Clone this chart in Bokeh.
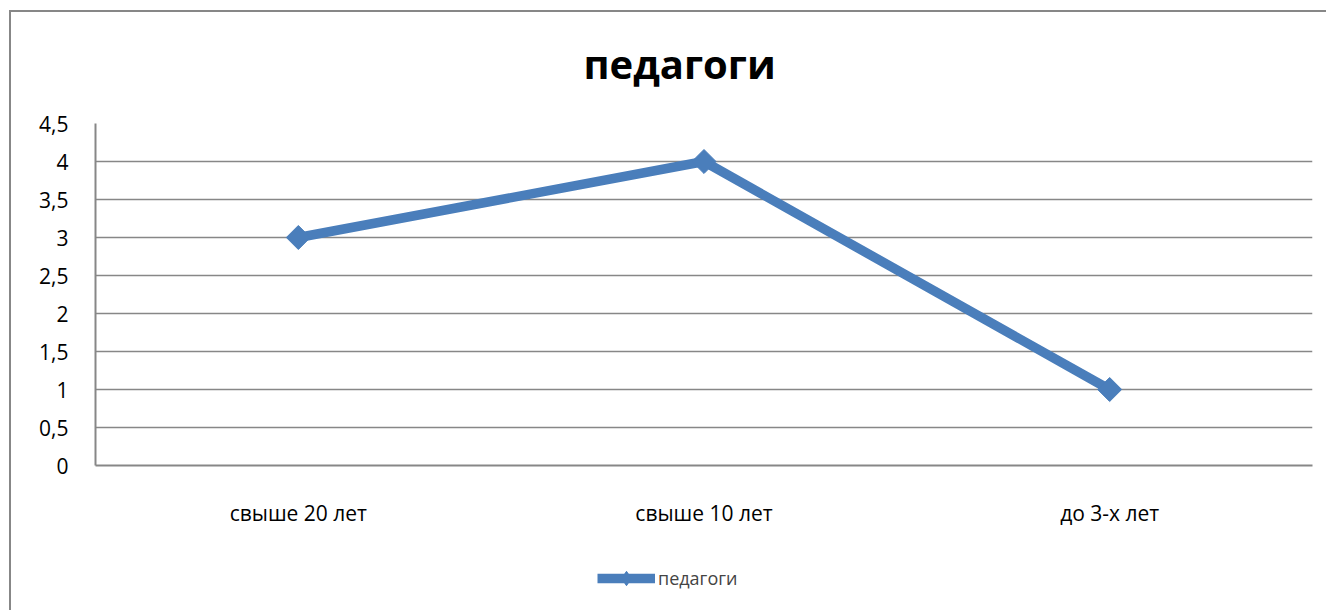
from bokeh.plotting import figure
from bokeh.layouts import column
from bokeh.models import FixedTicker, Title, Legend, LegendItem, FactorRange
from bokeh.embed import file_html
from bokeh.resources import INLINE
import math

categories = ["свыше 20 лет", "свыше 10 лет", "до 3-х лет"]
values = [3, 4, 1]
series_name = "педагоги"
y_ticks = [0, 0.5, 1, 1.5, 2, 2.5, 3, 3.5, 4, 4.5]
y_tick_labels = ["0", "0,5", "1", "1,5", "2", "2,5", "3", "3,5", "4", "4,5"]

FONT = "Open Sans"
GRAY = "#878787"
BLUE = "#4A7EBB"

p = figure(width=1326, height=540, output_backend="svg", toolbar_location=None,
           x_range=FactorRange(*categories, range_padding=0), y_range=(0, 4.5),
           min_border_left=95, min_border_right=14, min_border_top=123, min_border_bottom=75)
p.outline_line_color = None
p.background_fill_color = "white"
p.border_fill_alpha = 0

t = Title(text="педагоги", align="left", text_font=FONT, text_font_style="bold",
          text_font_size="40px", text_color="black", offset=488, standoff=65)
p.add_layout(t, "above")

p.yaxis.ticker = FixedTicker(ticks=y_ticks)
p.yaxis.major_label_overrides = {v: l for v, l in zip(y_ticks, y_tick_labels)}
for ax in (p.xaxis[0], p.yaxis[0]):
    ax.axis_line_color = GRAY
    ax.axis_line_width = 2
    ax.major_tick_line_color = None
    ax.minor_tick_line_color = None
    ax.major_tick_out = 0
    ax.major_tick_in = 0
    ax.major_label_text_font = FONT
    ax.major_label_text_font_size = "21px"
    ax.major_label_text_color = "black"
p.yaxis.major_label_standoff = 27
p.xaxis.major_label_standoff = 33

p.xgrid.grid_line_color = None
p.ygrid.grid_line_color = GRAY
p.ygrid.grid_line_width = 1.5

line = p.line(categories, values, line_color=BLUE, line_width=9.5, line_join="round")
pts = p.scatter(categories, values, marker="square", angle=math.pi / 4, size=17,
                fill_color=BLUE, line_color=BLUE)

# legend strip below the chart (its frame is aligned with the chart's frame);
# the swatch renderers hold the series but lie outside this strip's visible range
p2 = figure(width=1326, height=70, output_backend="svg", toolbar_location=None,
            x_range=(0, 1), y_range=(-10, -9), min_border=0)
p2.axis.visible = False
p2.grid.visible = False
p2.outline_line_color = None
p2.border_fill_alpha = 0
idx = list(range(len(values)))
lg_line = p2.line(x=idx, y=values, line_color=BLUE, line_width=9.5)
lg_pts = p2.scatter(x=idx, y=values, marker="diamond", size=17,
                    fill_color=BLUE, line_color=BLUE)
legend = Legend(items=[LegendItem(label=series_name, renderers=[lg_line, lg_pts])],
                location=(502, 14), orientation="horizontal", glyph_width=58, glyph_height=36,
                label_text_font=FONT, label_text_font_size="18px", label_standoff=3,
                padding=0, margin=0, border_line_color=None, background_fill_alpha=0)
p2.add_layout(legend, "center")

# chart-area border: only its left and top edges fall inside the window
layout = column(p, p2, spacing=0,
                styles={"box-shadow": f"inset 9px 10px 0 0 white, inset 11px 12px 0 0 {GRAY}",
                        "background-color": "white"})

open("out.html", "w").write(file_html(layout, INLINE))
